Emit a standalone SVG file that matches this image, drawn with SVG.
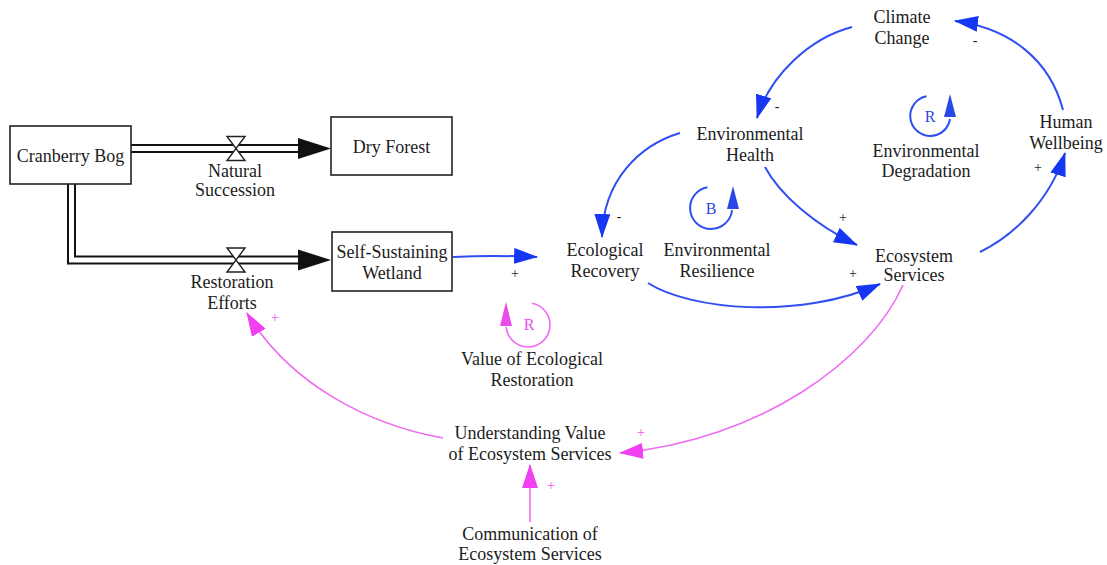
<svg xmlns="http://www.w3.org/2000/svg" width="1107" height="565" viewBox="0 0 1107 565">
<style>
text{font-family:"Liberation Serif","Times New Roman",serif;font-size:18px;fill:#1c1c1c;text-anchor:middle}
.sign{font-size:14px}
.bl{fill:none;stroke:#2f4ff0;stroke-width:2}
.mg{fill:none;stroke:#f06cf0;stroke-width:1.6}
.box{fill:#fff;stroke:#222;stroke-width:1.6}
.pipeO{fill:none;stroke:#111;stroke-width:9}
.pipeI{fill:none;stroke:#fff;stroke-width:5}
.valve{fill:#fff;stroke:#222;stroke-width:1.4}
.blt{fill:#2a47e8}
.mgt{fill:#ea4cea}
</style>
<defs>
<marker id="ab" markerUnits="userSpaceOnUse" markerWidth="24" markerHeight="16" refX="23" refY="8" orient="auto">
<path d="M0,0 L24,8 L0,16 z" fill="#1537f2"/>
</marker>
<marker id="am" markerUnits="userSpaceOnUse" markerWidth="24" markerHeight="16" refX="23" refY="8" orient="auto">
<path d="M0,0 L24,8 L0,16 z" fill="#f040f0"/>
</marker>
</defs>
<rect width="1107" height="565" fill="#fff"/>

<g id="connectors">
<!-- stock flows -->
<path class="pipeO" d="M131,148.5 H300"/>
<path class="pipeI" d="M127,148.5 H300"/>
<path class="pipeO" d="M71.5,184 V260 H300" stroke-linejoin="miter"/>
<path class="pipeI" d="M71.5,180 V260 H300" stroke-linejoin="miter"/>
<polygon points="298,138 298,159 331,148.5" fill="#111"/>
<polygon points="298,249.5 298,270.5 331,260" fill="#111"/>
<!-- blue causal links -->
<path class="bl" d="M453,257 Q495,255 537,257" marker-end="url(#ab)"/>
<path class="bl" d="M852,27 C810,38 770,75 757,118" marker-end="url(#ab)"/>
<path class="bl" d="M1063,110 C1050,60 1010,28 955,21" marker-end="url(#ab)"/>
<path class="bl" d="M680,133 C640,145 603,180 602,237" marker-end="url(#ab)"/>
<path class="bl" d="M765,167 C780,195 815,225 857,245" marker-end="url(#ab)"/>
<path class="bl" d="M648,283 C690,310 800,320 880,284" marker-end="url(#ab)"/>
<path class="bl" d="M980,252 C1015,235 1050,200 1065,153" marker-end="url(#ab)"/>
<!-- magenta causal links -->
<path class="mg" d="M443,438 C370,425 290,385 247,313" marker-end="url(#am)"/>
<path class="mg" d="M903,285 C870,360 760,440 620,453" marker-end="url(#am)"/>
<path class="mg" d="M530,522 V465" marker-end="url(#am)"/>
<!-- polarity signs -->
<text class="sign" x="515" y="278">+</text>
<text class="sign" x="777" y="111">-</text>
<text class="sign" x="975" y="45">-</text>
<text class="sign" x="619" y="221">-</text>
<text class="sign" x="843" y="222">+</text>
<text class="sign" x="853" y="278">+</text>
<text class="sign" x="1038" y="172">+</text>
<text class="sign" x="275" y="322" fill="#f050f0" style="fill:#f050f0">+</text>
<text class="sign" x="641" y="437" style="fill:#f050f0">+</text>
<text class="sign" x="551" y="490" style="fill:#f050f0">+</text>
</g>

<g id="cranberry-bog">
<rect class="box" x="10" y="126" width="121" height="58"/>
<text x="70.5" y="162">Cranberry Bog</text>
</g>
<g id="dry-forest">
<rect class="box" x="331" y="117" width="121" height="58"/>
<text x="391.5" y="153">Dry Forest</text>
</g>
<g id="self-sustaining-wetland">
<rect class="box" x="332" y="232" width="120" height="59"/>
<text x="392" y="258">Self-Sustaining</text>
<text x="392" y="279">Wetland</text>
</g>
<g id="natural-succession">
<polygon class="valve" points="227,136.5 245,136.5 227,160.5 245,160.5"/>
<text x="235" y="177">Natural</text>
<text x="235" y="196">Succession</text>
</g>
<g id="restoration-efforts">
<polygon class="valve" points="227,248 245,248 227,272 245,272"/>
<text x="232" y="288">Restoration</text>
<text x="232" y="309">Efforts</text>
</g>
<g id="climate-change">
<text x="902" y="23">Climate</text>
<text x="902" y="44">Change</text>
</g>
<g id="environmental-health">
<text x="750" y="140">Environmental</text>
<text x="750" y="161">Health</text>
</g>
<g id="human-wellbeing">
<text x="1066" y="128">Human</text>
<text x="1066" y="149">Wellbeing</text>
</g>
<g id="ecological-recovery">
<text x="605" y="256">Ecological</text>
<text x="605" y="277">Recovery</text>
</g>
<g id="ecosystem-services">
<text x="914" y="262">Ecosystem</text>
<text x="914" y="281">Services</text>
</g>
<g id="understanding-value">
<text x="530" y="439">Understanding Value</text>
<text x="530" y="460">of Ecosystem Services</text>
</g>
<g id="communication">
<text x="530" y="540">Communication of</text>
<text x="530" y="560">Ecosystem Services</text>
</g>
<g id="loop-environmental-resilience">
<path class="bl" d="M707.5,187.3 A21 21 0 1 0 732,210"/>
<polygon class="blt" points="733,186 727,209 739,209"/>
<text x="711" y="214" style="fill:#2a47e8;font-size:16px">B</text>
<text x="717" y="256">Environmental</text>
<text x="717" y="277">Resilience</text>
</g>
<g id="loop-environmental-degradation">
<path class="bl" d="M926.5,96.3 A20 20 0 1 0 950,119"/>
<polygon class="blt" points="950,94 944,117 956,117"/>
<text x="930" y="122" style="fill:#2a47e8;font-size:16px">R</text>
<text x="926" y="157">Environmental</text>
<text x="926" y="177">Degradation</text>
</g>
<g id="loop-value-ecological-restoration">
<path class="mg" d="M531.8,303.3 A22 22 0 1 1 506.1,326.9"/>
<polygon class="mgt" points="506,302 500,326 512,326"/>
<text x="529" y="330" style="fill:#ea4cea;font-size:16px">R</text>
<text x="532" y="365">Value of Ecological</text>
<text x="532" y="386">Restoration</text>
</g>
</svg>
